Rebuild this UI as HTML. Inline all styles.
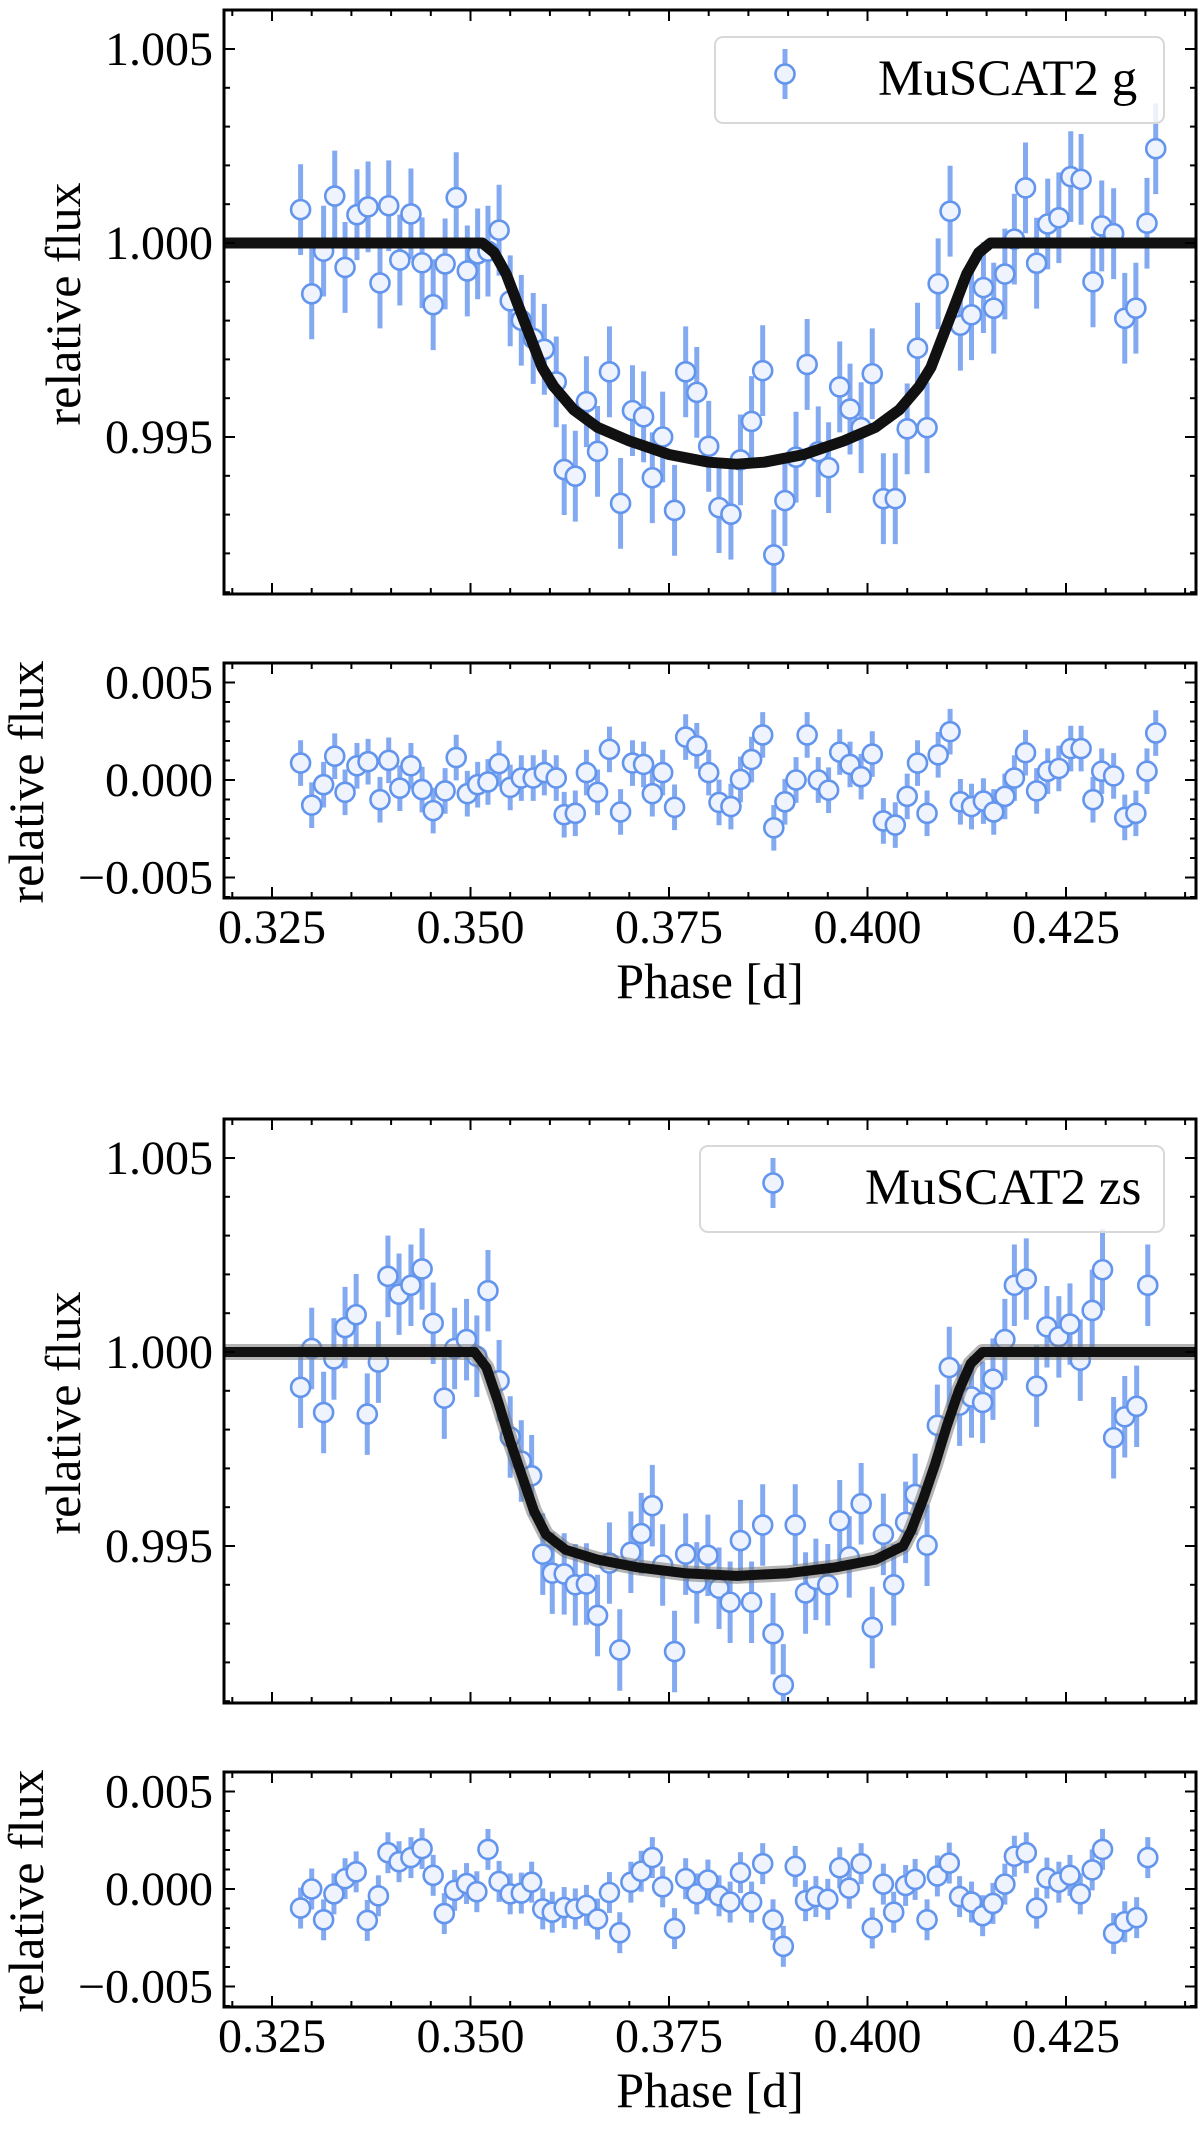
<!DOCTYPE html>
<html><head><meta charset="utf-8"><style>
html,body{margin:0;padding:0;background:#fff;}
svg{display:block;}
text{font-family:"Liberation Serif","DejaVu Serif",serif;fill:#000;}
</style></head>
<body>
<svg id="chart" width="1200" height="2133" viewBox="0 0 1200 2133" xmlns="http://www.w3.org/2000/svg"></svg>
<script>
// ---------- MuSCAT2 g ----------
const phaseG = [0.3286,0.3300,0.3315,0.3329,0.3342,0.3357,0.3371,0.3386,0.3397,0.3411,0.3425,0.3439,0.3453,0.3468,0.3482,0.3496,0.3509,0.3522,0.3536,0.3550,0.3564,0.3579,0.3593,0.3608,0.3618,0.3632,0.3646,0.3660,0.3675,0.3689,0.3704,0.3718,0.3729,0.3742,0.3757,0.3771,0.3785,0.3800,0.3813,0.3828,0.3840,0.3854,0.3868,0.3882,0.3896,0.3910,0.3924,0.3938,0.3951,0.3965,0.3978,0.3992,0.4006,0.4020,0.4035,0.4050,0.4063,0.4075,0.4089,0.4104,0.4117,0.4131,0.4146,0.4159,0.4173,0.4185,0.4199,0.4213,0.4227,0.4241,0.4256,0.4269,0.4284,0.4295,0.4310,0.4324,0.4338,0.4352,0.4363];
const fluxG = [1.00086,0.99869,0.99979,1.00121,0.99937,1.00073,1.00093,0.99897,1.00096,0.99956,1.00075,0.99949,0.99841,0.99946,1.00117,0.99928,0.99972,0.99979,1.00033,0.99851,0.99801,0.99754,0.99726,0.99642,0.99416,0.99399,0.99591,0.99463,0.99668,0.99329,0.99568,0.99552,0.99395,0.99500,0.99311,0.99668,0.99615,0.99476,0.99318,0.99301,0.99441,0.99540,0.99671,0.99196,0.99336,0.99448,0.99687,0.99462,0.99421,0.99629,0.99572,0.99524,0.99663,0.99341,0.99341,0.99521,0.99729,0.99524,0.99895,1.00082,0.99788,0.99815,0.99885,0.99832,0.99920,1.00010,1.00142,0.99948,1.00049,1.00065,1.00171,1.00164,0.99900,1.00044,1.00024,0.99806,0.99832,1.00051,1.00243];
const residG = [0.00087,-0.00129,-0.00024,0.00122,-0.00063,0.00073,0.00094,-0.00101,0.00101,-0.00042,0.00073,-0.00049,-0.00157,-0.00056,0.00115,-0.00070,-0.00024,-0.00010,0.00084,-0.00038,0.00010,0.00010,0.00038,0.00010,-0.00178,-0.00171,0.00038,-0.00063,0.00157,-0.00164,0.00087,0.00080,-0.00070,0.00038,-0.00140,0.00220,0.00175,0.00038,-0.00115,-0.00136,0.00003,0.00105,0.00231,-0.00245,-0.00112,0.00000,0.00231,0.00000,-0.00052,0.00143,0.00080,0.00017,0.00133,-0.00210,-0.00231,-0.00084,0.00087,-0.00171,0.00129,0.00248,-0.00112,-0.00136,-0.00108,-0.00164,-0.00084,0.00010,0.00140,-0.00056,0.00045,0.00059,0.00161,0.00161,-0.00101,0.00045,0.00021,-0.00192,-0.00171,0.00045,0.00241];
const errG = 0.00117;
const modelPhaseG = [0.319,0.3515,0.3530,0.3545,0.3560,0.3575,0.3590,0.3605,0.3630,0.3660,0.3700,0.3750,0.3800,0.3835,0.3870,0.3920,0.3970,0.4010,0.4040,0.4065,0.4080,0.4095,0.4110,0.4125,0.4140,0.4155,0.4414];
const modelFluxG  = [1,1,0.99975,0.9992,0.9984,0.9976,0.9968,0.9963,0.9957,0.99525,0.9949,0.99455,0.99435,0.9943,0.99435,0.99455,0.9949,0.99525,0.9957,0.9963,0.9968,0.9976,0.9984,0.9992,0.99975,1,1];

// ---------- MuSCAT2 zs ----------
const phaseZ = [0.3286,0.3300,0.3315,0.3328,0.3342,0.3356,0.3370,0.3384,0.3396,0.3410,0.3425,0.3439,0.3453,0.3467,0.3480,0.3495,0.3508,0.3522,0.3536,0.3550,0.3564,0.3577,0.3591,0.3603,0.3618,0.3632,0.3646,0.3660,0.3675,0.3688,0.3702,0.3715,0.3729,0.3742,0.3757,0.3771,0.3785,0.3799,0.3813,0.3827,0.3840,0.3854,0.3868,0.3881,0.3894,0.3909,0.3922,0.3935,0.3950,0.3965,0.3977,0.3992,0.4006,0.4020,0.4033,0.4048,0.4060,0.4075,0.4088,0.4103,0.4116,0.4131,0.4145,0.4158,0.4173,0.4185,0.4200,0.4213,0.4226,0.4241,0.4255,0.4268,0.4283,0.4296,0.4310,0.4324,0.4339,0.4353];
const fluxZ = [0.99909,1.00009,0.99844,0.99982,1.00063,1.00096,0.99840,0.99974,1.00195,1.00149,1.00172,1.00214,1.00074,0.99881,1.00009,1.00032,0.99989,1.00158,0.99926,0.99781,0.99719,0.99681,0.99479,0.99430,0.99428,0.99400,0.99402,0.99321,0.99456,0.99232,0.99484,0.99532,0.99604,0.99451,0.99228,0.99479,0.99405,0.99476,0.99391,0.99355,0.99514,0.99355,0.99554,0.99274,0.99142,0.99554,0.99379,0.99414,0.99400,0.99565,0.99472,0.99609,0.99290,0.99530,0.99400,0.99561,0.99633,0.99502,0.99811,0.99960,0.99863,0.99884,0.99870,0.99930,1.00032,1.00172,1.00188,0.99912,1.00065,1.00039,1.00072,0.99979,1.00107,1.00212,0.99779,0.99833,0.99860,1.00172];
const residZ = [-0.00098,0.00000,-0.00158,-0.00025,0.00053,0.00088,-0.00161,-0.00035,0.00186,0.00140,0.00161,0.00207,0.00070,-0.00126,-0.00007,0.00028,-0.00014,0.00203,0.00039,-0.00025,-0.00021,0.00035,-0.00102,-0.00119,-0.00095,-0.00102,-0.00084,-0.00154,-0.00018,-0.00224,0.00035,0.00091,0.00161,0.00011,-0.00203,0.00053,-0.00025,0.00046,-0.00035,-0.00067,0.00084,-0.00067,0.00130,-0.00158,-0.00294,0.00116,-0.00060,-0.00039,-0.00053,0.00109,0.00004,0.00130,-0.00200,0.00025,-0.00119,0.00018,0.00049,-0.00158,0.00067,0.00133,-0.00039,-0.00067,-0.00137,-0.00074,0.00025,0.00168,0.00186,-0.00098,0.00056,0.00035,0.00070,-0.00025,0.00098,0.00203,-0.00228,-0.00168,-0.00147,0.00161];
const errZ = 0.00105;
const modelPhaseZ = [0.319,0.3505,0.3520,0.3535,0.3550,0.3565,0.3580,0.3595,0.3620,0.3660,0.3710,0.3770,0.3835,0.3900,0.3960,0.4010,0.4045,0.4055,0.4070,0.4085,0.4100,0.4115,0.4130,0.4145,0.4414];
const modelFluxZ  = [1,1,0.9996,0.9987,0.9977,0.9968,0.9959,0.9953,0.9949,0.99465,0.99445,0.9943,0.99423,0.9943,0.99445,0.99465,0.9950,0.9954,0.9962,0.9971,0.9981,0.9990,0.9997,1,1];

const xTicks = [0.325,0.350,0.375,0.400,0.425];
const xTickLabels = ["0.325","0.350","0.375","0.400","0.425"];
const yTicksMain = [0.995,1.000,1.005];
const yTickLabelsMain = ["0.995","1.000","1.005"];
const yTicksRes = [-0.005,0.000,0.005];
const yTickLabelsRes = ["\u22120.005","0.000","0.005"];

const NS = "http://www.w3.org/2000/svg";
const svg = document.getElementById('chart');
const L = 224, R = 1196;
function xs(v){ return 272 + (v - 0.325) * 7940; }
function mk(tag, attrs, parent){ const e = document.createElementNS(NS, tag); for (const k in attrs) e.setAttribute(k, attrs[k]); (parent||svg).appendChild(e); return e; }

const BLUE = '#6495ed';
function drawPoints(g, px, py, yfun, err){
  for (let i = 0; i < px.length; i++){
    const cx = xs(px[i]);
    const bar = mk('line', {x1:cx, x2:cx, y1:yfun(py[i]+err), y2:yfun(py[i]-err), stroke:BLUE, 'stroke-width':5, 'stroke-opacity':0.8}, g);
    
    
  }
  for (let i = 0; i < px.length; i++){
    const cx = xs(px[i]), cy = yfun(py[i]);
    const c = mk('circle', {cx:cx, cy:cy, r:9.5, fill:'#eef3fd', stroke:BLUE, 'stroke-width':2.6}, g);
    
    
  }
}

function axes(g, top, bot, yfun, yt, ytl, minorStep, yMin, yMax, showX){
  const fr = mk('rect', {x:L, y:top, width:R-L, height:bot-top, fill:'none', stroke:'#000', 'stroke-width':3}, g);
  
  
  for (let v = 0.320; v <= 0.4415; v += 0.005){
    const vv = Math.round(v*1000)/1000;
    const major = Math.abs((vv*1000) % 25) < 0.01;
    const len = major ? 11 : 6, x = xs(vv);
    if (x < L || x > R) continue;
    mk('line', {x1:x, x2:x, y1:bot, y2:bot-len, stroke:'#000', 'stroke-width':2}, g);
    mk('line', {x1:x, x2:x, y1:top, y2:top+len, stroke:'#000', 'stroke-width':2}, g);
  }
  const n0 = Math.ceil(yMin/minorStep), n1 = Math.floor(yMax/minorStep);
  for (let n = n0; n <= n1; n++){
    const v = n*minorStep, y = yfun(v);
    mk('line', {x1:L, x2:L+6, y1:y, y2:y, stroke:'#000', 'stroke-width':2}, g);
    mk('line', {x1:R, x2:R-6, y1:y, y2:y, stroke:'#000', 'stroke-width':2}, g);
  }
  for (let i = 0; i < yt.length; i++){
    const y = yfun(yt[i]);
    mk('line', {x1:L, x2:L+11, y1:y, y2:y, stroke:'#000', 'stroke-width':2}, g);
    mk('line', {x1:R, x2:R-11, y1:y, y2:y, stroke:'#000', 'stroke-width':2}, g);
    const t = mk('text', {x:213, y:y+16, 'text-anchor':'end', 'font-size':48}, g);
    t.textContent = ytl[i];
    
    
  }
  if (showX){
    for (let i = 0; i < xTicks.length; i++){
      const t = mk('text', {x:xs(xTicks[i]), y:bot+45, 'text-anchor':'middle', 'font-size':48}, g);
      t.textContent = xTickLabels[i];
      
      
    }
  }
}

function panel(off, name, phase, flux, resid, err, mp, mf, legendText, legX, legMarkX, legTextX, band){
  const g = mk('g', {});
  
  
  const top = 10 + off, bot = 594 + off;
  const yM = v => 243 + off - (v - 1) * 38800;
  const clipId = 'clip' + off;
  const cp = mk('clipPath', {id:clipId}, g);
  mk('rect', {x:L, y:top, width:R-L, height:bot-top}, cp);
  const inner = mk('g', {'clip-path':'url(#'+clipId+')'}, g);
  
  
  drawPoints(inner, phase, flux, yM, err);
  const d = mp.map((p,i)=>(i?'L':'M')+xs(p).toFixed(1)+','+yM(mf[i]).toFixed(1)).join(' ');
  if (band){
    const b = mk('path', {d:d, fill:'none', stroke:'#777', 'stroke-opacity':0.55, 'stroke-width':16, 'stroke-linejoin':'round'}, inner);
    
    
  }
  const ml = mk('path', {d:d, fill:'none', stroke:'#111', 'stroke-width':band ? 10 : 11, 'stroke-linejoin':'round'}, inner);
  
  
  axes(g, top, bot, yM, yTicksMain, yTickLabelsMain, 0.001, 0.9909, 1.0061, false);
  const yl = mk('text', {x:0, y:0, 'text-anchor':'middle', 'font-size':50, transform:'translate(80,'+(304+off)+') rotate(-90)'}, g);
  yl.textContent = 'relative flux';
  
  
  const lg = mk('g', {}, g);
  
  
  mk('rect', {x:legX, y:37+off, width:1164-legX, height:86, rx:8, fill:'#fff', 'fill-opacity':0.85, stroke:'#d8d8d8', 'stroke-width':2}, lg);
  const lm = mk('line', {x1:legMarkX, x2:legMarkX, y1:49+off, y2:99+off, stroke:BLUE, 'stroke-width':5, 'stroke-opacity':0.8}, lg);
  
  
  mk('circle', {cx:legMarkX, cy:74+off, r:9.5, fill:'#eef3fd', stroke:BLUE, 'stroke-width':2.6}, lg);
  const lt = mk('text', {x:legTextX, y:95+off, 'font-size':51}, lg);
  lt.textContent = legendText;
  
  

  const rtop = 663 + off, rbot = 898 + off;
  const yR = v => 780 + off - v * 19500;
  const clip2 = 'clipr' + off;
  const cp2 = mk('clipPath', {id:clip2}, g);
  mk('rect', {x:L, y:rtop, width:R-L, height:rbot-rtop}, cp2);
  const rin = mk('g', {'clip-path':'url(#'+clip2+')'}, g);
  
  
  drawPoints(rin, phase, resid, yR, err);
  axes(g, rtop, rbot, yR, yTicksRes, yTickLabelsRes, 0.001, -0.006, 0.006, true);
  const rl = mk('text', {x:0, y:0, 'text-anchor':'middle', 'font-size':50, transform:'translate(43,'+(782+off)+') rotate(-90)'}, g);
  rl.textContent = 'relative flux';
  
  
  const xl = mk('text', {x:710, y:998+off, 'text-anchor':'middle', 'font-size':50}, g);
  xl.textContent = 'Phase [d]';
  
  
}

panel(0, 'muscat2-g', phaseG, fluxG, residG, errG, modelPhaseG, modelFluxG, 'MuSCAT2 g', 715, 785, 878, false);
panel(1109, 'muscat2-zs', phaseZ, fluxZ, residZ, errZ, modelPhaseZ, modelFluxZ, 'MuSCAT2 zs', 700, 773, 865, true);
</script>
</body></html>
